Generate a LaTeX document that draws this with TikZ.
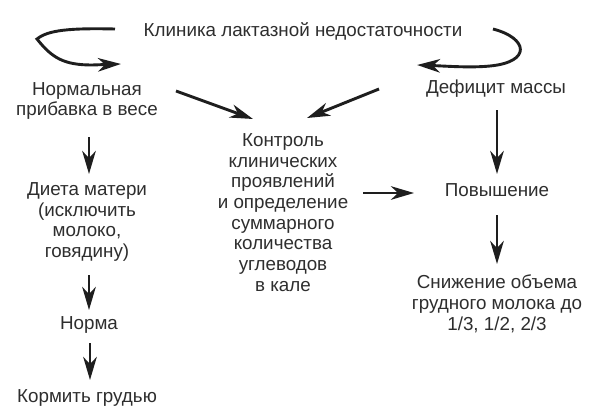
\documentclass[tikz,border=0pt]{standalone}
\usepackage{fontspec}
\setmainfont{Liberation Sans}
\usetikzlibrary{arrows.meta}
\definecolor{txt}{HTML}{2E2E2E}
\definecolor{arc}{HTML}{1E1E1E}
\tikzset{
  lbl/.style={font=\fontsize{18.8}{20.7}\selectfont, text=txt, align=center, inner sep=0pt},
  arr/.style={draw=arc, line width=2.9pt, -{Stealth[length=23pt,width=13.5pt,inset=7pt]}},
}
\begin{document}
\begin{tikzpicture}[x=1pt,y=-1pt]
\useasboundingbox (0,0) rectangle (604,415);
\fill[white] (0,0) rectangle (604,415);

\node[lbl] (title) at (303,31) {Клиника лактазной недостаточности};
\node[lbl] (norm) at (87,101) {Нормальная\\прибавка в весе};
\node[lbl] (def) at (496,89) {Дефицит массы};
\node[lbl] (ctrl) at (283,212.5) {Контроль\\клинических\\проявлений\\и определение\\суммарного\\количества\\углеводов\\в кале};
\node[lbl] (diet) at (87,222) {Диета матери\\(исключить\\молоко,\\говядину)};
\node[lbl] (pov) at (497,190) {Повышение};
\node[lbl] (sniz) at (497,304) {Снижение объема\\грудного молока до\\1/3, 1/2, 2/3};
\node[lbl] (nrm) at (89,325) {Норма};
\node[lbl] (korm) at (87,398) {Кормить грудью};

% curved arrows from the title
\coordinate (tL) at (115,29);
\coordinate (nT) at (121,64);
\coordinate (tR) at (493,29);
\coordinate (dT) at (417,65);
\draw[arr] (tL) .. controls (70,28) and (48,30) .. (37,39)
  .. controls (52,58) and (64,65) .. (92,65) -- (nT);
\draw[arr] (tR) .. controls (528,38) and (532,62) .. (490,66)
  .. controls (470,68) and (445,66) .. (dT);

% straight arrows
\coordinate (nS) at (176,91);
\coordinate (cL) at (253,119);
\coordinate (dS) at (379,89);
\coordinate (cR) at (307,118);
\draw[arr] (nS) -- (cL);
\draw[arr] (dS) -- (cR);

\coordinate (a1s) at (89,137); \coordinate (a1e) at (89,174);
\coordinate (a2s) at (89,275); \coordinate (a2e) at (89,310);
\coordinate (a3s) at (90,343); \coordinate (a3e) at (90,380);
\draw[arr] (a1s) -- (a1e);
\draw[arr] (a2s) -- (a2e);
\draw[arr] (a3s) -- (a3e);

\coordinate (hS) at (363,193); \coordinate (hE) at (414,193);
\draw[arr] (hS) -- (hE);

\coordinate (r1s) at (497,110); \coordinate (r1e) at (497,174);
\coordinate (r2s) at (497,215); \coordinate (r2e) at (497,264);
\draw[arr] (r1s) -- (r1e);
\draw[arr] (r2s) -- (r2e);
\end{tikzpicture}
\end{document}
